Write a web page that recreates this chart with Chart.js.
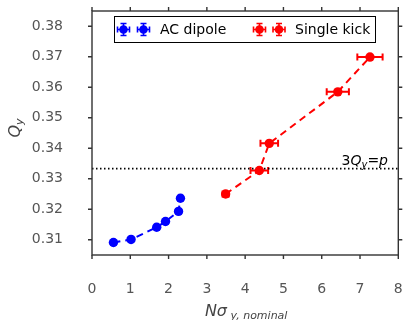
<!DOCTYPE html>
<html>
<head>
<meta charset="utf-8">
<script src="https://cdn.jsdelivr.net/npm/chart.js@4/dist/chart.umd.min.js"></script>
<style>
html,body{margin:0;padding:0;background:#fff;}
#wrap{width:403px;height:320px;}
</style>
</head>
<body>
<div id="wrap"><canvas id="c" width="403" height="320"></canvas></div>
<script>
// ---- data ----
const acX = [0.56, 1.02, 1.69, 1.92, 2.26, 2.31];
const acY = [0.3091, 0.3101, 0.3141, 0.3160, 0.3193, 0.3236];
const acXerr = [0.05, 0.05, 0.05, 0.05, 0.05, 0.05];
const acYerr = [0.0004, 0.0004, 0.0004, 0.0004, 0.0004, 0.0004];

const skX = [3.49, 4.37, 4.63, 6.42, 7.26];
const skY = [0.3250, 0.3327, 0.3416, 0.3585, 0.3699];
const skXerr = [0.08, 0.23, 0.23, 0.29, 0.33];
const skYerr = [0.0004, 0.0004, 0.0004, 0.0004, 0.0004];

const resonanceX = [0, 8];
const resonanceQ = 1 / 3;

const xTicks = [0, 1, 2, 3, 4, 5, 6, 7, 8];
const yTicks = [0.31, 0.32, 0.33, 0.34, 0.35, 0.36, 0.37, 0.38];

const seriesNames = ['AC dipole', 'Single kick'];
const BLUE = '#0000ff', RED = '#ff0000';
const TICKCOL = '#555';
const FONT = '"DejaVu Sans", sans-serif';

const toPts = (xs, ys) => xs.map((x, i) => ({x: x, y: ys[i]}));

const errorBarPlugin = {
  id: 'errbars',
  beforeDatasetsDraw(chart) {
    const ctx = chart.ctx, xs = chart.scales.x, ys = chart.scales.y;
    const sets = [[acX, acY, acXerr, acYerr, BLUE], [skX, skY, skXerr, skYerr, RED]];
    ctx.save();
    ctx.lineWidth = 2;
    sets.forEach(([X, Y, XE, YE, col]) => {
      ctx.strokeStyle = col;
      X.forEach((x, i) => {
        const px = xs.getPixelForValue(x), py = ys.getPixelForValue(Y[i]);
        const l = xs.getPixelForValue(x - XE[i]), r = xs.getPixelForValue(x + XE[i]);
        const t = ys.getPixelForValue(Y[i] + YE[i]), b = ys.getPixelForValue(Y[i] - YE[i]);
        ctx.beginPath();
        ctx.moveTo(l, py); ctx.lineTo(r, py);
        ctx.moveTo(l, py - 3.5); ctx.lineTo(l, py + 3.5);
        ctx.moveTo(r, py - 3.5); ctx.lineTo(r, py + 3.5);
        ctx.moveTo(px, t); ctx.lineTo(px, b);
        ctx.moveTo(px - 3.5, t); ctx.lineTo(px + 3.5, t);
        ctx.moveTo(px - 3.5, b); ctx.lineTo(px + 3.5, b);
        ctx.stroke();
      });
    });
    ctx.restore();
  }
};

function drawSub(ctx, parts, x, y) {
  let cx = x;
  parts.forEach(([t, f, dy]) => {
    ctx.font = f;
    ctx.fillText(t, cx, y + dy);
    cx += ctx.measureText(t).width;
  });
  return cx - x;
}
function measureSub(ctx, parts) {
  let w = 0;
  parts.forEach(([t, f]) => { ctx.font = f; w += ctx.measureText(t).width; });
  return w;
}

function legendMarker(ctx, x, y, col) {
  ctx.strokeStyle = col; ctx.fillStyle = col; ctx.lineWidth = 1.6;
  ctx.beginPath();
  ctx.moveTo(x - 6, y); ctx.lineTo(x + 6, y);
  ctx.moveTo(x - 6, y - 3); ctx.lineTo(x - 6, y + 3);
  ctx.moveTo(x + 6, y - 3); ctx.lineTo(x + 6, y + 3);
  ctx.moveTo(x, y - 6); ctx.lineTo(x, y + 6);
  ctx.moveTo(x - 3, y - 6); ctx.lineTo(x + 3, y - 6);
  ctx.moveTo(x - 3, y + 6); ctx.lineTo(x + 3, y + 6);
  ctx.stroke();
  ctx.beginPath(); ctx.arc(x, y, 4.3, 0, Math.PI * 2); ctx.fill();
}

const framePlugin = {
  id: 'frame',
  afterDraw(chart) {
    const ctx = chart.ctx, a = chart.chartArea, xs = chart.scales.x, ys = chart.scales.y;
    ctx.save();
    // frame + outward ticks on all four sides
    ctx.strokeStyle = '#333'; ctx.lineWidth = 1.4;
    ctx.strokeRect(a.left, a.top, a.right - a.left, a.bottom - a.top);
    ctx.beginPath();
    xTicks.forEach(v => {
      const p = xs.getPixelForValue(v);
      ctx.moveTo(p, a.bottom); ctx.lineTo(p, a.bottom + 4);
      ctx.moveTo(p, a.top); ctx.lineTo(p, a.top - 4);
    });
    yTicks.forEach(v => {
      const p = ys.getPixelForValue(v);
      ctx.moveTo(a.left, p); ctx.lineTo(a.left - 4, p);
      ctx.moveTo(a.right, p); ctx.lineTo(a.right + 4, p);
    });
    ctx.stroke();

    // tick labels
    ctx.fillStyle = TICKCOL;
    ctx.font = '14px ' + FONT;
    ctx.textAlign = 'center'; ctx.textBaseline = 'middle';
    xTicks.forEach(v => ctx.fillText(String(v), xs.getPixelForValue(v), a.bottom + 34));
    ctx.textAlign = 'right';
    yTicks.forEach(v => ctx.fillText(v.toFixed(2), a.left - 29, ys.getPixelForValue(v)));
    ctx.textAlign = 'left';

    // annotation 3Q_y = p
    ctx.fillStyle = '#000';
    ctx.textBaseline = 'alphabetic';
    const ann = [['3', '14px ' + FONT, 0], ['Q', 'italic 14px ' + FONT, 0], ['y', 'italic 10px ' + FONT, 3],
                 ['=', '14px ' + FONT, 0], ['p', 'italic 14px ' + FONT, 0]];
    const aw = measureSub(ctx, ann);
    drawSub(ctx, ann, 388 - aw, ys.getPixelForValue(resonanceQ) - 4);

    // legend
    const lx = 114.5, ly = 16.5, lw = 261, lh = 26;
    ctx.fillStyle = '#fff';
    ctx.fillRect(lx, ly, lw, lh);
    ctx.strokeStyle = '#000'; ctx.lineWidth = 1;
    ctx.strokeRect(lx, ly, lw, lh);
    const my = ly + lh / 2;
    legendMarker(ctx, 123.5, my, BLUE);
    legendMarker(ctx, 143.5, my, BLUE);
    legendMarker(ctx, 259.5, my, RED);
    legendMarker(ctx, 279, my, RED);
    ctx.fillStyle = '#000';
    ctx.font = '14px ' + FONT;
    ctx.textBaseline = 'middle';
    ctx.fillText(seriesNames[0], 160, my + 1);
    ctx.fillText(seriesNames[1], 295, my + 1);

    // axis titles
    ctx.fillStyle = '#444';
    ctx.textBaseline = 'alphabetic';
    const xt = [['N', 'italic 16px ' + FONT, 0], ['σ', 'italic 16px ' + FONT, 0], [' y, nominal', 'italic 11px ' + FONT, 3]];
    const xw = measureSub(ctx, xt);
    drawSub(ctx, xt, (a.left + a.right) / 2 - xw / 2 + 1, 316);
    ctx.save();
    const yt = [['Q', 'italic 16px ' + FONT, 0], ['y', 'italic 11px ' + FONT, 3]];
    const yw = measureSub(ctx, yt);
    ctx.translate(20, (a.top + a.bottom) / 2 - 5);
    ctx.rotate(-Math.PI / 2);
    drawSub(ctx, yt, -yw / 2, 0);
    ctx.restore();
    ctx.restore();
  }
};

function fixBox(size) {
  return s => {
    if (s.isHorizontal()) s.height = size; else s.width = size;
    s.paddingTop = 0; s.paddingBottom = 0; s.paddingLeft = 0; s.paddingRight = 0;
  };
}

new Chart(document.getElementById('c'), {
  type: 'scatter',
  data: {
    datasets: [
      {
        label: 'resonance', data: resonanceX.map(x => ({x: x, y: resonanceQ})),
        showLine: true, borderColor: '#000', borderWidth: 1.6, borderDash: [1.5, 2.5],
        pointRadius: 0, order: 3
      },
      {
        label: seriesNames[0], data: toPts(acX, acY), showLine: true,
        borderColor: BLUE, borderWidth: 2, borderDash: [7, 5],
        backgroundColor: BLUE, pointBackgroundColor: BLUE, pointBorderWidth: 0,
        pointRadius: 4.7, order: 1
      },
      {
        label: seriesNames[1], data: toPts(skX, skY), showLine: true,
        borderColor: RED, borderWidth: 2, borderDash: [7, 5],
        backgroundColor: RED, pointBackgroundColor: RED, pointBorderWidth: 0,
        pointRadius: 4.7, order: 2
      }
    ]
  },
  options: {
    responsive: false,
    animation: false,
    events: [],
    layout: {padding: {top: 11, right: 4, left: 0, bottom: 0}},
    plugins: {legend: {display: false}, tooltip: {enabled: false}},
    scales: {
      x: {
        type: 'linear', min: 0, max: 8,
        grid: {display: false}, border: {display: false},
        afterBuildTicks: s => { s.ticks = xTicks.map(v => ({value: v})); },
        afterFit: fixBox(65),
        ticks: {display: false}
      },
      y: {
        type: 'linear', min: 0.305, max: 0.385,
        grid: {display: false}, border: {display: false},
        afterBuildTicks: s => { s.ticks = yTicks.map(v => ({value: v})); },
        afterFit: fixBox(92),
        ticks: {display: false}
      }
    }
  },
  plugins: [errorBarPlugin, framePlugin]
});
</script>
</body>
</html>
